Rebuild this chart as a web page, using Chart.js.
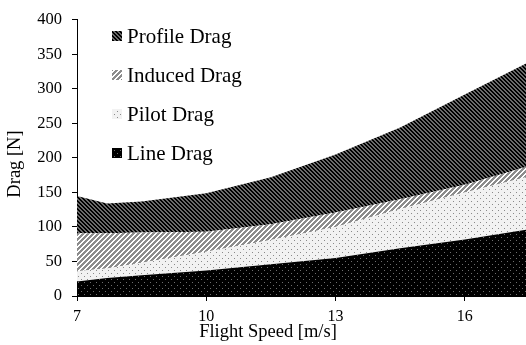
<!DOCTYPE html>
<html>
<head>
<meta charset="utf-8">
<script src="https://cdn.jsdelivr.net/npm/chart.js@4"></script>
<style>
  body { margin: 0; background: #fff; }
  canvas { display: block; }
</style>
</head>
<body>
<canvas id="drag-chart" width="526" height="345"></canvas>
<script>
// flight speed [m/s] and drag components [N]
const speeds      = [7, 7.7, 8.5, 10, 11.5, 13, 14.5, 16, 17.42];
const lineDrag    = [21, 26, 30, 37, 46, 55, 69, 82, 96];
const pilotDrag   = [15, 14, 18, 27, 35, 45, 57, 68, 76];
const inducedDrag = [55, 51, 44, 29, 23, 21, 14, 11, 15];
const profileDrag = [54, 43, 45, 56, 68, 84, 104, 131, 150];
const xTicks = [7, 10, 13, 16];
const seriesNames = ['Line Drag', 'Pilot Drag', 'Induced Drag', 'Profile Drag'];

const serif = '"Liberation Serif", "Times New Roman", serif';

function makePattern(size, bg, fg, test) {
  const c = document.createElement('canvas');
  c.width = c.height = size;
  const g = c.getContext('2d');
  g.fillStyle = bg;
  g.fillRect(0, 0, size, size);
  g.fillStyle = fg;
  for (let y = 0; y < size; y++) {
    for (let x = 0; x < size; x++) {
      if (test(x, y)) g.fillRect(x, y, 1, 1);
    }
  }
  return g.createPattern(c, 'repeat');
}

const patProfile = makePattern(4, '#6a6a6a', '#000', (x, y) => ((x - y + 8) % 4) < 2);
const patInduced = makePattern(5, '#ffffff', '#8c8c8c', (x, y) => ((x + y) % 5) < 3);
const patPilot = makePattern(6, '#f2f2f2', '#8a8a8a', (x, y) => (x === 0 && y === 0) || (x === 3 && y === 3));
const patLine = makePattern(6, '#000', '#6e6e6e', (x, y) => (x === 0 && y === 0) || (x === 3 && y === 3));

const fills = [patLine, patPilot, patInduced, patProfile];
const seriesData = [lineDrag, pilotDrag, inducedDrag, profileDrag];

const datasets = seriesData.map((vals, i) => ({
  label: seriesNames[i],
  data: speeds.map((s, j) => ({ x: s, y: vals[j] })),
  backgroundColor: fills[i],
  borderWidth: 0,
  pointRadius: 0,
  tension: 0,
  fill: i === 0 ? 'origin' : '-1'
}));

const extras = {
  id: 'extras',
  afterDraw(chart) {
    const ctx = chart.ctx;
    ctx.save();
    // legend, top series first
    const rows = [36, 75, 114, 153];
    ctx.font = '21px ' + serif;
    ctx.textBaseline = 'middle';
    ctx.fillStyle = '#000';
    for (let k = 0; k < 4; k++) {
      const i = 3 - k;
      const y = rows[k];
      ctx.fillStyle = fills[i];
      ctx.fillRect(112, y - 5, 10, 10);
      ctx.fillStyle = '#000';
      ctx.fillText(seriesNames[i], 127, y + 1);
    }
    // axis titles
    ctx.font = '18.5px ' + serif;
    ctx.textAlign = 'center';
    ctx.fillText('Flight Speed [m/s]', 268, 332);
    ctx.translate(15, 164);
    ctx.rotate(-Math.PI / 2);
    ctx.fillText('Drag [N]', 0, 0);
    ctx.restore();
  }
};

const ctx = document.getElementById('drag-chart').getContext('2d');
const dragChart = new Chart(ctx, {
  type: 'line',
  data: { datasets: datasets },
  plugins: [extras],
  options: {
    responsive: false,
    animation: false,
    layout: { padding: { top: 16, left: 0, right: 0, bottom: 0 } },
    plugins: {
      legend: { display: false },
      tooltip: { enabled: false }
    },
    scales: {
      x: {
        type: 'linear',
        min: 7,
        max: 17.42,
        grid: { drawOnChartArea: false, drawTicks: true, tickLength: 5, color: '#000' },
        border: { color: '#000', width: 1 },
        ticks: { color: '#000', font: { family: serif, size: 16 }, padding: 6 },
        afterBuildTicks: s => { s.ticks = xTicks.map(v => ({ value: v })); },
        afterFit: s => { s.height = 49; }
      },
      y: {
        stacked: true,
        min: 0,
        max: 400,
        grid: { drawOnChartArea: false, drawTicks: true, tickLength: 5, color: '#000' },
        border: { color: '#000', width: 1 },
        ticks: { stepSize: 50, color: '#000', font: { family: serif, size: 16.5 }, padding: 10 },
        afterFit: s => { s.width = 77; }
      }
    }
  }
});
</script>
</body>
</html>
